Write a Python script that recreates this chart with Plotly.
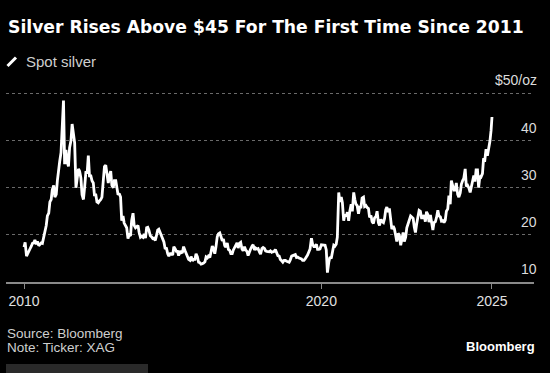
import pandas as pd
import plotly.graph_objects as go

# ---- data (semi-monthly readings, USD/oz) ----
Y2010 = [17.4, 18.4, 15.5, 15.9, 16.4, 17.0, 17.6, 18.2, 18.3, 18.9, 18.0, 18.6,
         17.7, 18.0, 18.3, 18.2, 19.4, 20.8, 22.0, 24.0, 24.6, 27.0, 27.5, 29.6]
Y2011 = [30.5, 28.0, 28.6, 31.5, 34.3, 35.5, 37.5, 42.0, 48.5, 35.0, 38.0, 35.5,
         34.5, 38.5, 40.0, 43.5, 41.0, 39.5, 30.0, 31.5, 34.0, 33.5, 32.0, 28.5]
Y2012 = [27.5, 30.0, 33.5, 33.0, 36.8, 32.5, 32.5, 31.5, 31.0, 28.5, 28.5, 27.0,
         26.8, 27.2, 27.5, 28.0, 31.5, 34.5, 34.8, 32.5, 31.0, 32.5, 33.5, 30.5]
Y2013 = [30.0, 31.5, 31.5, 30.0, 28.5, 28.8, 28.0, 23.0, 24.0, 22.5, 22.0, 21.5,
         19.2, 20.0, 19.8, 23.0, 24.6, 22.0, 21.5, 21.8, 22.0, 20.5, 19.5, 19.7]
Y2014 = [19.5, 20.2, 19.3, 21.5, 21.6, 21.0, 19.8, 19.6, 19.2, 19.3, 18.8, 19.8,
         21.0, 21.2, 20.4, 19.7, 19.3, 18.5, 17.0, 17.3, 16.0, 15.5, 16.0, 16.0]
Y2015 = [15.7, 17.5, 17.0, 16.5, 16.5, 15.6, 16.6, 16.2, 16.3, 17.5, 16.7, 16.0,
         15.6, 14.8, 14.6, 15.4, 14.5, 14.8, 14.8, 16.0, 15.3, 14.2, 14.1, 13.8]
Y2016 = [13.9, 14.0, 14.3, 15.3, 15.1, 15.5, 15.2, 16.3, 17.6, 17.1, 16.0, 17.4,
         19.6, 20.2, 20.4, 19.7, 18.7, 19.1, 17.7, 17.4, 18.3, 16.9, 16.7, 16.0]
Y2017 = [16.0, 16.8, 17.5, 18.1, 18.3, 17.2, 18.2, 18.4, 17.0, 16.6, 17.5, 16.8,
         16.5, 15.6, 16.6, 17.0, 17.6, 17.9, 16.8, 17.2, 17.0, 17.1, 16.4, 15.9]
Y2018 = [17.1, 17.3, 17.1, 16.6, 16.5, 16.4, 16.4, 16.6, 16.3, 16.4, 16.5, 16.9,
         16.2, 15.6, 15.5, 14.8, 14.5, 14.2, 14.6, 14.6, 14.4, 14.3, 14.2, 14.7]
Y2019 = [15.5, 15.6, 15.8, 15.8, 15.2, 15.3, 15.1, 15.0, 14.9, 14.6, 14.6, 14.9,
         15.2, 15.7, 16.4, 17.0, 19.3, 18.0, 17.5, 17.5, 18.0, 16.9, 16.9, 17.0]
Y2020 = [17.9, 17.9, 17.9, 17.8, 16.8, 12.0, 14.2, 15.3, 15.0, 16.5, 17.8, 17.6,
         18.0, 19.5, 29.0, 27.0, 28.0, 26.8, 23.0, 24.3, 23.9, 24.8, 23.0, 25.0]
Y2021 = [26.5, 25.0, 29.0, 27.5, 26.5, 26.2, 24.5, 25.9, 25.9, 27.8, 28.0, 26.0,
         26.2, 25.8, 25.6, 23.7, 24.1, 22.8, 22.4, 23.6, 23.9, 25.0, 22.6, 22.0]
Y2022 = [23.3, 22.8, 22.6, 23.5, 25.3, 25.9, 24.8, 25.6, 22.7, 21.2, 21.9, 21.3,
         19.9, 18.6, 20.3, 20.0, 17.8, 19.3, 20.5, 18.6, 19.5, 21.5, 22.5, 23.3]
Y2023 = [24.0, 23.8, 23.5, 21.6, 20.5, 22.2, 24.1, 25.2, 25.0, 23.6, 23.6, 24.2,
         22.8, 24.9, 24.3, 22.7, 24.2, 23.0, 21.0, 22.6, 22.8, 23.7, 25.2, 24.0]
Y2024 = [23.8, 22.9, 23.0, 22.6, 23.1, 25.0, 25.5, 28.3, 26.5, 31.5, 30.3, 29.5,
         29.5, 31.0, 28.6, 28.0, 28.9, 30.7, 31.5, 32.0, 34.0, 30.3, 30.5, 30.0]
Y2025 = [29.0, 30.3, 31.3, 32.6, 31.3, 33.8, 33.8, 30.0, 32.5, 32.3, 33.0, 36.2,
         36.0, 38.2, 36.8, 38.0, 39.9, 42.2]
LAST_DATE = "2025-09-26"
LAST_VALUE = 45.0

VALUES = (Y2010 + Y2011 + Y2012 + Y2013 + Y2014 + Y2015 + Y2016 + Y2017 + Y2018
          + Y2019 + Y2020 + Y2021 + Y2022 + Y2023 + Y2024 + Y2025 + [LAST_VALUE])
DATES = list(pd.date_range("2010-01-01", periods=len(VALUES) - 1, freq="SMS")) + [pd.Timestamp(LAST_DATE)]

X_TICKS = ["2010-01-01", "2020-01-01", LAST_DATE]
X_TICK_TEXT = ["2010", "2020", "2025"]
Y_TICKS = [10, 20, 30, 40, 50]
Y_TICK_TEXT = ["10", "20", "30", "40", "$50/oz"]

TITLE = "Silver Rises Above $45 For The First Time Since 2011"
SERIES = "Spot silver"
SOURCE = "Source: Bloomberg"
NOTE = "Note: Ticker: XAG"

# ---- layout ----
W, H = 550, 373
L, R, T, B = 6, 16, 92, 91
PW, PH = W - L - R, H - T - B


def px(x):
    return (x - L) / PW


def py(y):
    return (H - B - y) / PH


fig = go.Figure()
fig.add_trace(go.Scatter(x=DATES, y=VALUES, mode="lines", name=SERIES,
                         line=dict(color="#ffffff", width=2.8), hoverinfo="skip"))

fig.update_layout(
    width=W, height=H, margin=dict(l=L, r=R, t=T, b=B),
    paper_bgcolor="#000000", plot_bgcolor="#000000", showlegend=False,
    font=dict(family="Liberation Sans, Arial, sans-serif", color="#d9d9d9", size=14),
    xaxis=dict(type="date", range=["2009-05-25", "2027-02-24"], tickvals=X_TICKS,
               ticktext=X_TICK_TEXT, ticks="outside", ticklen=5, tickwidth=1,
               tickcolor="#8a8a8a", showline=True, linecolor="#8a8a8a", linewidth=1.5,
               showgrid=False, zeroline=False, tickfont=dict(size=14, color="#e0e0e0")),
    yaxis=dict(range=[10, 50.3], tickvals=Y_TICKS, showticklabels=False, showgrid=True,
               gridcolor="#6a6a6a", gridwidth=1, griddash="dot", zeroline=False,
               showline=False, ticks=""),
)

ann = []
for v, t in zip(Y_TICKS, Y_TICK_TEXT):
    ann.append(dict(x=1, xref="paper", y=v, yref="y", text=t, showarrow=False,
                    xanchor="right", yanchor="middle", xshift=5, yshift=13,
                    font=dict(size=14, color="#dcdcdc")))
ann.append(dict(x=px(6), xref="paper", y=py(27.5), yref="paper", text="<b>" + TITLE + "</b>",
                showarrow=False, xanchor="left", yanchor="middle",
                font=dict(family="DejaVu Sans", size=17.2, color="#ffffff")))
ann.append(dict(x=px(23.5), xref="paper", y=py(62), yref="paper", text=SERIES,
                showarrow=False, xanchor="left", yanchor="middle",
                font=dict(size=15, color="#cfcfcf")))
ann.append(dict(x=px(5), xref="paper", y=py(333.7), yref="paper", text=SOURCE,
                showarrow=False, xanchor="left", yanchor="middle", align="left",
                font=dict(size=13.5, color="#cfcfcf")))
ann.append(dict(x=px(5), xref="paper", y=py(347.7), yref="paper", text=NOTE,
                showarrow=False, xanchor="left", yanchor="middle", align="left",
                font=dict(size=13.5, color="#cfcfcf")))
ann.append(dict(x=px(537), xref="paper", y=py(346), yref="paper", text="<b>Bloomberg</b>",
                showarrow=False, xanchor="right", yanchor="middle",
                font=dict(size=13, color="#ffffff")))
fig.update_layout(annotations=ann)

fig.add_shape(type="line", xref="paper", yref="paper", x0=px(7.5), y0=py(66), x1=px(16), y1=py(57.5),
              line=dict(color="#ffffff", width=3))
fig.add_shape(type="rect", xref="paper", yref="paper", x0=px(6), y0=py(364), x1=px(148), y1=py(380),
              line=dict(width=0), fillcolor="#2a2a2a")

fig.write_html("out.html", config={"displayModeBar": False},
               post_script="document.body.style.margin='0';document.body.style.overflow='hidden';")
